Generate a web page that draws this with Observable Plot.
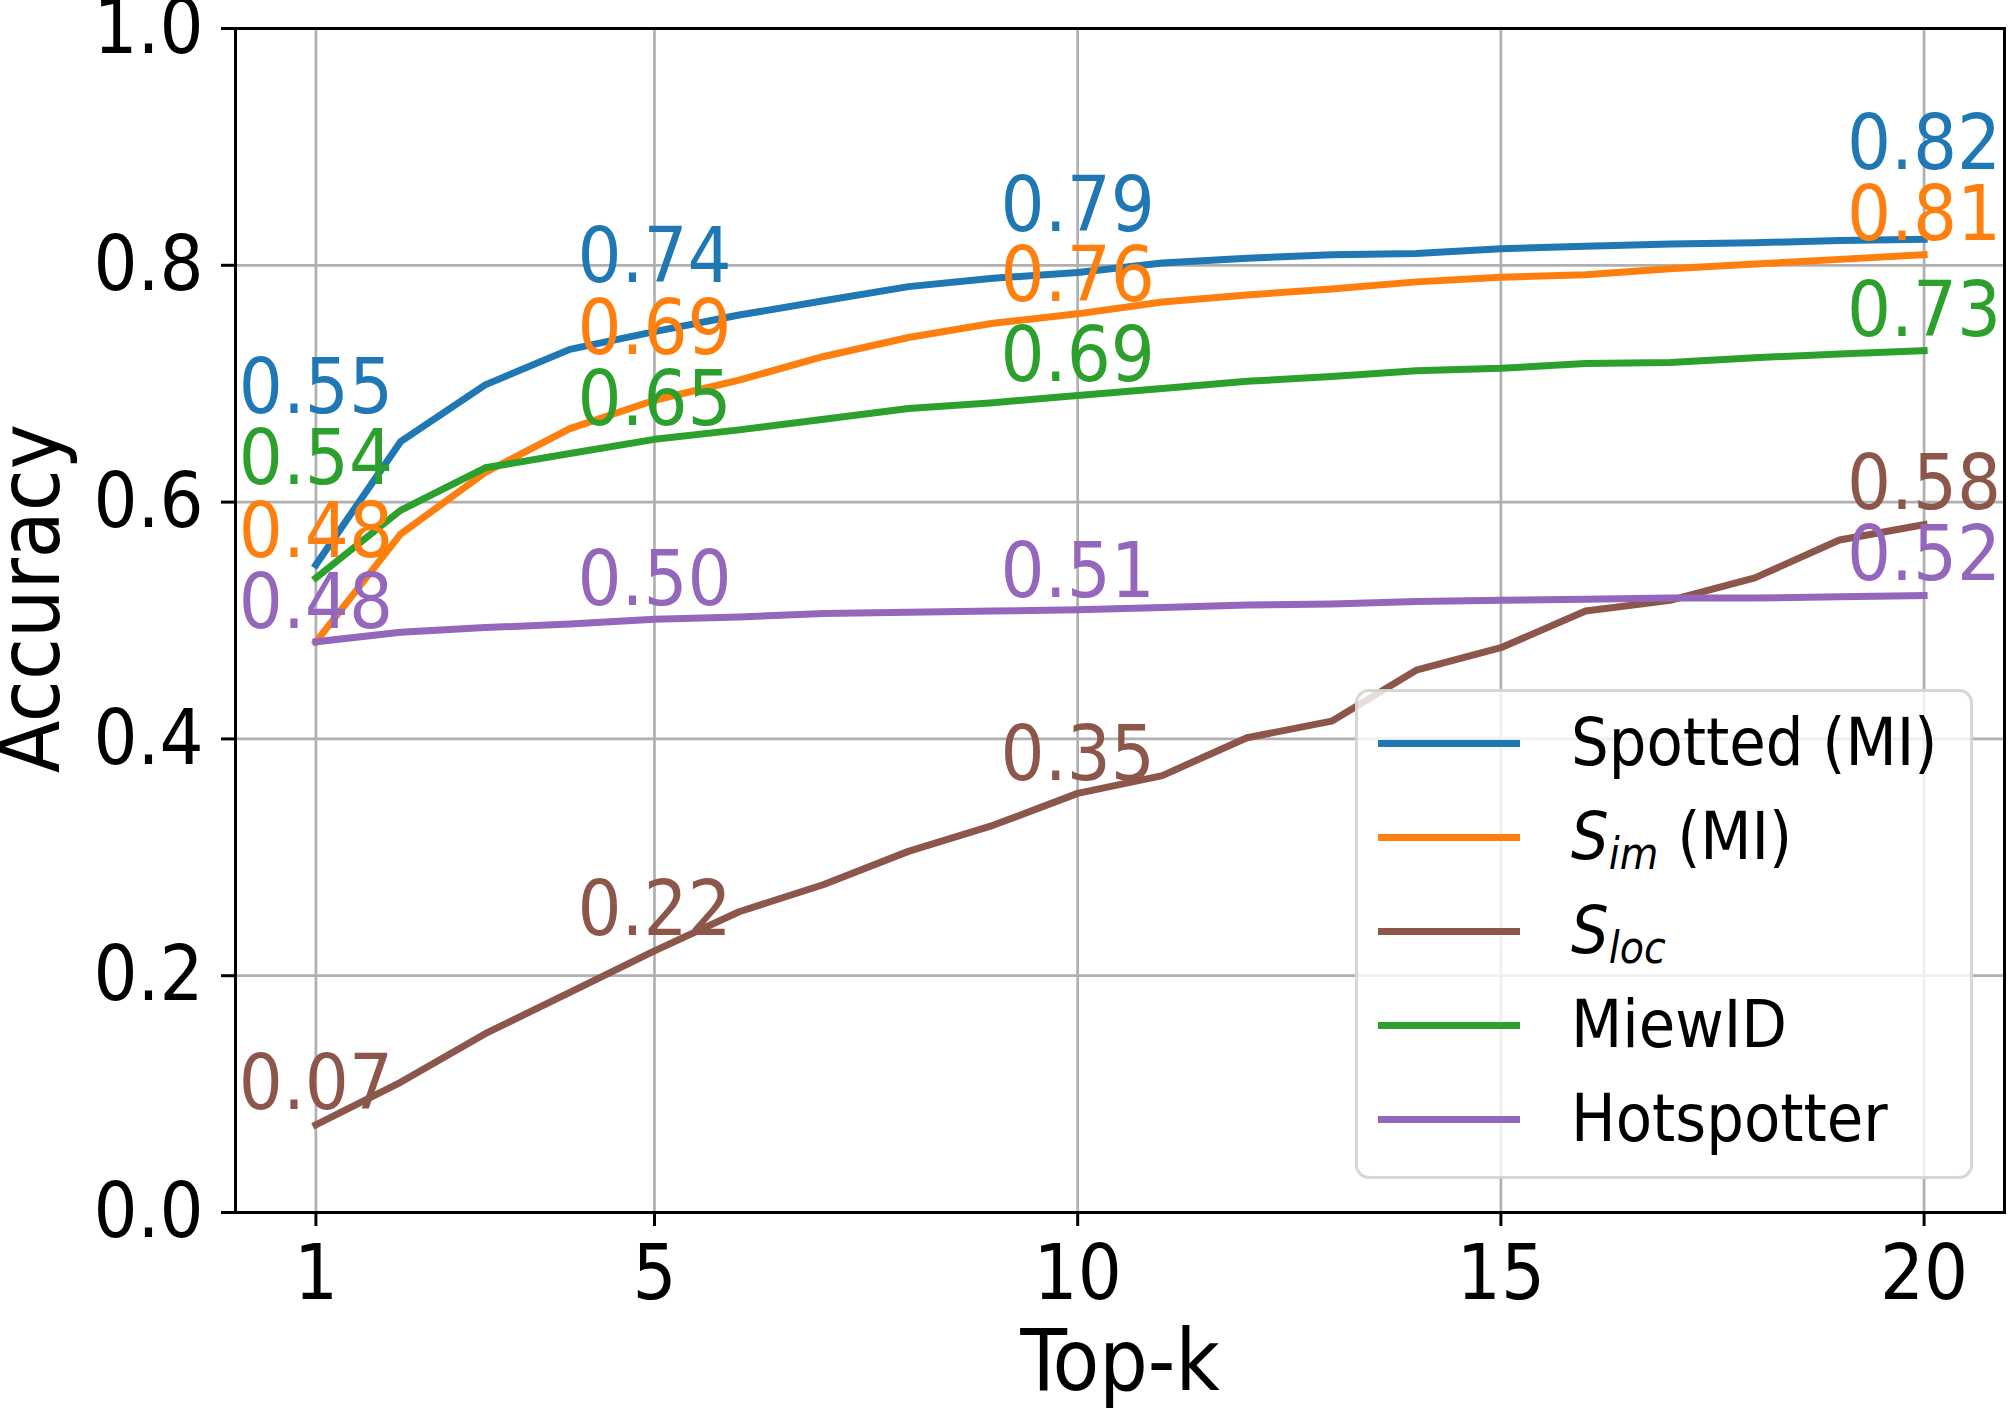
<!DOCTYPE html>
<html>
<head>
<meta charset="utf-8">
<script src="https://cdn.jsdelivr.net/npm/d3@7"></script>
<script src="https://cdn.jsdelivr.net/npm/@observablehq/plot@0.6"></script>
<style>
  html, body { margin: 0; padding: 0; background: #fff; }
  #wrap { position: relative; width: 2008px; height: 1408px; overflow: hidden; }
  #legend {
    position: absolute; left: 1355px; top: 689px; width: 618px; height: 490px;
    box-sizing: border-box; border: 3px solid rgba(204,204,204,0.8); border-radius: 14px;
    background: rgba(255,255,255,0.8); padding-top: 4px;
    font-family: "DejaVu Sans Condensed", "DejaVu Sans", sans-serif; font-size: 66px; color: #000;
  }
  .row { display: flex; align-items: center; height: 94px; }
  .handle { width: 142px; height: 7px; margin-left: 20px; flex: none; }
  .lab { margin-left: 51px; white-space: nowrap; line-height: 1; }
  .lab i { font-style: italic; }
  .lab sub { font-size: 44px; font-style: italic; vertical-align: -10px; line-height: 0; }
</style>
</head>
<body>
<div id="wrap"></div>
<script>
// ---- data ----
const topK = [1,2,3,4,5,6,7,8,9,10,11,12,13,14,15,16,17,18,19,20];
const seriesNames = ["Spotted (MI)", "S_im (MI)", "S_loc", "MiewID", "Hotspotter"];
const seriesColors = ["#1f77b4", "#ff7f0e", "#8c564b", "#2ca02c", "#9467bd"];
const spotted    = [0.547,0.651,0.699,0.729,0.744,0.758,0.770,0.782,0.789,0.794,0.802,0.806,0.809,0.810,0.814,0.816,0.818,0.819,0.821,0.822];
const simMI      = [0.482,0.573,0.625,0.662,0.686,0.703,0.723,0.739,0.751,0.759,0.769,0.775,0.780,0.786,0.790,0.792,0.797,0.801,0.805,0.809];
const sLoc       = [0.074,0.110,0.151,0.186,0.221,0.254,0.277,0.305,0.327,0.354,0.369,0.401,0.415,0.458,0.477,0.508,0.517,0.536,0.568,0.581];
const miewID     = [0.536,0.593,0.629,0.641,0.653,0.661,0.670,0.679,0.684,0.690,0.696,0.702,0.706,0.711,0.713,0.717,0.718,0.722,0.725,0.728];
const hotspotter = [0.482,0.490,0.494,0.497,0.501,0.503,0.506,0.507,0.508,0.509,0.511,0.513,0.514,0.516,0.517,0.518,0.519,0.519,0.520,0.521];
const seriesValues = [spotted, simMI, sLoc, miewID, hotspotter];
// annotated Top-k positions and the upward nudge of each annotation (accuracy units)
const labelledK = [1, 5, 10, 20];
const labelLift = [
  [0.128, 0.042, 0.035, 0.059],
  [0.072, 0.039, 0.011, 0.012],
  [0.013, 0.013, 0.011, 0.013],
  [0.079, 0.012, 0.012, 0.012],
  [0.012, 0.012, 0.011, 0.013]
];
const xTicks = [1, 5, 10, 15, 20];
const yTicks = [0, 0.2, 0.4, 0.6, 0.8, 1.0];

// ---- tidy rows ----
const rows = [];
seriesNames.forEach((s, i) => topK.forEach((k, j) => rows.push({series: s, k, acc: seriesValues[i][j]})));
const labelRows = [];
seriesNames.forEach((s, i) => labelledK.forEach((k, j) => {
  labelRows.push({series: s, k, acc: seriesValues[i][topK.indexOf(k)], lift: labelLift[i][j]});
}));

const FONT = '"DejaVu Sans Condensed", "DejaVu Sans", sans-serif';

const marks = [
  Plot.gridX(xTicks, {stroke: "#b0b0b0", strokeOpacity: 1, strokeWidth: 2.7}),
  Plot.gridY(yTicks, {stroke: "#b0b0b0", strokeOpacity: 1, strokeWidth: 2.7})
];
seriesNames.forEach(s => {
  marks.push(Plot.line(rows.filter(r => r.series === s), {
    x: "k", y: "acc", stroke: "series", strokeWidth: 7,
    strokeLinejoin: "round", strokeLinecap: "square"
  }));
});
marks.push(
  Plot.text(labelRows, {
    x: "k", y: d => d.acc + d.lift, text: d => d.acc.toFixed(2), fill: "series",
    fontSize: 77, textAnchor: "middle", lineAnchor: "bottom"
  }),
  Plot.frame({stroke: "black", strokeWidth: 3}),
  Plot.axisX(xTicks, {tickSize: 14, tickPadding: 18, strokeWidth: 3, fontSize: 77, label: null}),
  Plot.axisY(yTicks, {tickSize: 14, tickPadding: 18, strokeWidth: 3, fontSize: 77, label: null, tickFormat: d => d.toFixed(1)}),
  Plot.text(["Top-k"], {text: d => d, frameAnchor: "bottom", dy: 177, lineAnchor: "bottom", textAnchor: "middle", fontSize: 85}),
  Plot.text(["Accuracy"], {text: d => d, frameAnchor: "left", dx: -177, dy: -22, rotate: -90, lineAnchor: "bottom", textAnchor: "middle", fontSize: 85})
);

const chart = Plot.plot({
  width: 2008, height: 1408,
  marginLeft: 235, marginRight: 4, marginTop: 28, marginBottom: 196,
  style: {fontFamily: FONT, fontSize: "77px", color: "black", background: "white", overflow: "visible"},
  x: {domain: [0.05, 20.95]},
  y: {domain: [0, 1]},
  color: {domain: seriesNames, range: seriesColors},
  marks
});
const wrap = document.getElementById("wrap");
wrap.appendChild(chart);

// ---- legend (HTML overlay, inside the axes like the original) ----
const legendLabels = {
  "Spotted (MI)": "Spotted (MI)",
  "S_im (MI)": "<i>S</i><sub>im</sub> (MI)",
  "S_loc": "<i>S</i><sub>loc</sub>",
  "MiewID": "MiewID",
  "Hotspotter": "Hotspotter"
};
const legend = document.createElement("div");
legend.id = "legend";
seriesNames.forEach((s, i) => {
  const row = document.createElement("div");
  row.className = "row";
  row.innerHTML = `<div class="handle" style="background:${seriesColors[i]}"></div><div class="lab">${legendLabels[s]}</div>`;
  legend.appendChild(row);
});
wrap.appendChild(legend);
</script>
</body>
</html>
